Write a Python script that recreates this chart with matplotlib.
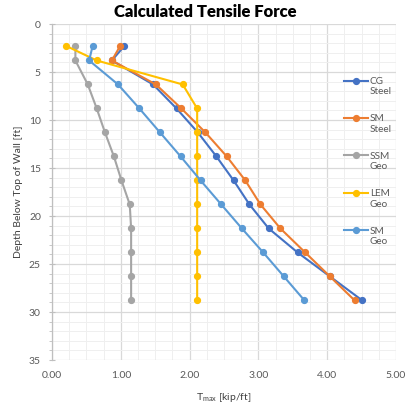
import matplotlib
matplotlib.use("Agg")
import matplotlib.pyplot as plt
from matplotlib.ticker import MultipleLocator, FormatStrFormatter

plt.rcParams['font.family'] = ['Lato', 'DejaVu Sans']

# depth of each reinforcement layer [ft]
depth = [2.3, 3.8, 6.3, 8.8, 11.3, 13.8, 16.3, 18.8, 21.3, 23.8, 26.3, 28.8]

# Tmax [kip/ft] for each method
cg_steel = [1.05, 0.87, 1.47, 1.81, 2.12, 2.39, 2.64, 2.87, 3.15, 3.57, 4.04, 4.51]
sm_steel = [0.99, 0.87, 1.51, 1.88, 2.23, 2.54, 2.81, 3.03, 3.32, 3.68, 4.04, 4.40]
ssm_geo = [0.34, 0.34, 0.52, 0.65, 0.77, 0.90, 1.01, 1.13, 1.15, 1.15, 1.15, 1.15]
lem_geo = [0.21, 0.65, 1.90, 2.11, 2.11, 2.11, 2.11, 2.11, 2.11, 2.11, 2.11, 2.11]
sm_geo = [0.59, 0.54, 0.96, 1.27, 1.57, 1.87, 2.16, 2.46, 2.76, 3.07, 3.37, 3.67]

series = [
    ("CG\nSteel", cg_steel, "#4472C4"),
    ("SM\nSteel", sm_steel, "#ED7D31"),
    ("SSM\nGeo", ssm_geo, "#A5A5A5"),
    ("LEM\nGeo", lem_geo, "#FFC000"),
    ("SM\nGeo", sm_geo, "#5B9BD5"),
]

fig = plt.figure(figsize=(4.07, 4.04), dpi=100)
ax = fig.add_axes([52/407, 1-360/404, 344/407, 336/404])

for label, vals, col in series:
    ax.plot(vals, depth, color=col, lw=1.5, marker="o", ms=4.2, label=label)

ax.set_xlim(0, 5)
ax.set_ylim(35, 0)
ax.xaxis.set_major_locator(MultipleLocator(1))
ax.xaxis.set_minor_locator(MultipleLocator(0.25))
ax.yaxis.set_major_locator(MultipleLocator(5))
ax.yaxis.set_minor_locator(MultipleLocator(1))
ax.xaxis.set_major_formatter(FormatStrFormatter("%.2f"))

ax.grid(which="major", color="#D9D9D9", lw=0.9)
ax.grid(which="minor", color="#EFEFEF", lw=0.7)
ax.set_axisbelow(True)

for s in ["top", "right", "bottom"]:
    ax.spines[s].set_visible(False)
ax.spines["left"].set_color("#BFBFBF")
ax.spines["left"].set_linewidth(0.9)

ax.tick_params(axis="x", which="both", length=0, labelsize=7.5, labelcolor="#595959", pad=8)
ax.tick_params(axis="y", which="major", length=4, direction="inout", color="#BFBFBF",
               labelsize=7.5, labelcolor="#595959", pad=6)
ax.tick_params(axis="y", which="minor", length=2, direction="out", color="#BFBFBF")

# title sits centred on the whole chart, not the plot area
fig.suptitle("Calculated Tensile Force", x=0.505, y=1-12/404, va="center",
             fontsize=12, fontweight="heavy")
ax.set_xlabel(r"T$_{\mathregular{max}}$ [kip/ft]", fontsize=7.5, color="#404040", labelpad=8)
ax.set_ylabel("Depth Below Top of Wall [ft]", fontsize=7.5, color="#404040", labelpad=4)

leg = ax.legend(loc="upper left", bbox_to_anchor=(344/407, 1-77/404),
                bbox_transform=fig.transFigure, frameon=False, fontsize=7.2,
                handlelength=2.4, handletextpad=0.2, labelspacing=1.8,
                borderpad=0, borderaxespad=0, labelcolor="#595959")
for col in leg._legend_handle_box.get_children():
    for item in col.get_children():
        item.align = "top"

fig.savefig("out.png", dpi=100)
